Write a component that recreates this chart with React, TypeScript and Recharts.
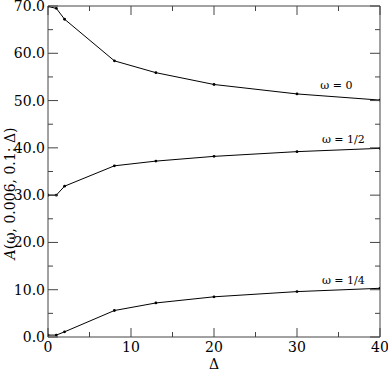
import React from 'react';
import { LineChart, Line, XAxis, YAxis, ReferenceDot } from 'recharts';

const deltas = [0, 1, 2, 8, 13, 20, 30, 40];
const omega0 = [69.9, 69.5, 67.2, 58.4, 55.9, 53.4, 51.4, 50.1];
const omegaHalf = [30.0, 30.0, 31.9, 36.2, 37.2, 38.2, 39.2, 39.9];
const omegaQuarter = [0.4, 0.4, 1.1, 5.6, 7.2, 8.5, 9.6, 10.3];

const xTicks = [0, 5, 10, 15, 20, 25, 30, 35, 40];
const yTicks = [0, 5, 10, 15, 20, 25, 30, 35, 40, 45, 50, 55, 60, 65, 70];

const curveLabels = ['ω = 0', 'ω = 1/2', 'ω = 1/4'];
const curveLabelX = [32.8, 33.0, 33.0];
const curveLabelY = [52.4, 41.0, 11.2];

const data = deltas.map((d, i) => ({
  d,
  w0: omega0[i],
  wh: omegaHalf[i],
  wq: omegaQuarter[i],
}));

const FONT = 'DejaVu Serif';
const AX = '#444';

const isMajor = (v: number) => v % 10 === 0;

const LeftTick = (props: any) => {
  const { x, y, payload } = props;
  const major = isMajor(payload.value);
  return (
    <g>
      <line x1={x} x2={x + (major ? 10 : 5)} y1={y} y2={y} stroke={AX} strokeWidth={1} />
      {major && (
        <text x={x - 3} y={y + 5} textAnchor="end" fontFamily={FONT} fontSize={14} fill="#000">
          {payload.value.toFixed(1)}
        </text>
      )}
    </g>
  );
};

const RightTick = (props: any) => {
  const { x, y, payload } = props;
  const major = isMajor(payload.value);
  return <line x1={x} x2={x - (major ? 10 : 5)} y1={y} y2={y} stroke={AX} strokeWidth={1} />;
};

const BottomTick = (props: any) => {
  const { x, y, payload } = props;
  const major = isMajor(payload.value);
  return (
    <g>
      <line x1={x} x2={x} y1={y} y2={y - (major ? 9 : 5)} stroke={AX} strokeWidth={1} />
      {major && (
        <text x={x} y={y + 15} textAnchor="middle" fontFamily={FONT} fontSize={14} fill="#000">
          {payload.value}
        </text>
      )}
    </g>
  );
};

const TopTick = (props: any) => {
  const { x, y, payload } = props;
  const major = isMajor(payload.value);
  return <line x1={x} x2={x} y1={y} y2={y + (major ? 9 : 5)} stroke={AX} strokeWidth={1} />;
};

const YLabel = (props: any) => {
  const vb = props.viewBox || { x: 0, y: 0, width: 48, height: 331 };
  const cx = vb.x + 15;
  const cy = vb.y + vb.height / 2 + 22;
  return (
    <text
      x={cx}
      y={cy}
      textAnchor="middle"
      transform={`rotate(-90, ${cx}, ${cy})`}
      fontFamily={FONT}
      fontSize={14}
      fill="#000"
    >
      <tspan fontStyle="italic">A</tspan>
      <tspan>(ω, 0.006, 0.1; Δ)</tspan>
    </text>
  );
};

const XLabel = (props: any) => {
  const vb = props.viewBox || { x: 48, y: 337, width: 332, height: 32 };
  return (
    <text x={vb.x + vb.width / 2} y={vb.y + 32} textAnchor="middle" fontFamily={FONT} fontSize={14} fill="#000">
      Δ
    </text>
  );
};

const makeCurveLabel = (text: string) => (props: any) => {
  const vb = props.viewBox || { x: 0, y: 0 };
  return (
    <text x={vb.x} y={vb.y} textAnchor="start" fontFamily={FONT} fontSize={11} fill="#000">
      {text}
    </text>
  );
};

const Dot = (props: any) => {
  const { cx, cy } = props;
  if (cx == null || cy == null) return null;
  return <circle cx={cx} cy={cy} r={1.4} fill="#000" stroke="none" />;
};

export default function App() {
  return (
    <div style={{ position: 'absolute', left: 0, top: 0, width: 388, height: 369, background: '#fff' }}>
      <LineChart width={388} height={369} data={data} margin={{ top: 0, right: 0, bottom: 0, left: 0 }}>
        <XAxis
          xAxisId="bottom"
          dataKey="d"
          type="number"
          domain={[0, 40]}
          ticks={xTicks}
          interval={0}
          orientation="bottom"
          height={32}
          tickSize={0}
          tickMargin={0}
          tickLine={false}
          axisLine={{ stroke: AX, strokeWidth: 1 }}
          tick={<BottomTick />}
          label={<XLabel />}
          allowDataOverflow
        />
        <XAxis
          xAxisId="top"
          dataKey="d"
          type="number"
          domain={[0, 40]}
          ticks={xTicks}
          interval={0}
          orientation="top"
          height={6}
          tickSize={0}
          tickMargin={0}
          tickLine={false}
          axisLine={{ stroke: AX, strokeWidth: 1 }}
          tick={<TopTick />}
          allowDataOverflow
        />
        <YAxis
          yAxisId="left"
          type="number"
          domain={[0, 70]}
          ticks={yTicks}
          interval={0}
          orientation="left"
          width={48}
          tickSize={0}
          tickMargin={0}
          tickLine={false}
          axisLine={{ stroke: AX, strokeWidth: 1 }}
          tick={<LeftTick />}
          label={<YLabel />}
          allowDataOverflow
        />
        <YAxis
          yAxisId="right"
          type="number"
          domain={[0, 70]}
          ticks={yTicks}
          interval={0}
          orientation="right"
          width={8}
          tickSize={0}
          tickMargin={0}
          tickLine={false}
          axisLine={{ stroke: AX, strokeWidth: 1 }}
          tick={<RightTick />}
          allowDataOverflow
        />
        <Line xAxisId="bottom" yAxisId="left" dataKey="w0" stroke="#000" strokeWidth={1} dot={<Dot />} activeDot={false} isAnimationActive={false} />
        <Line xAxisId="bottom" yAxisId="left" dataKey="wh" stroke="#000" strokeWidth={1} dot={<Dot />} activeDot={false} isAnimationActive={false} />
        <Line xAxisId="bottom" yAxisId="left" dataKey="wq" stroke="#000" strokeWidth={1} dot={<Dot />} activeDot={false} isAnimationActive={false} />
        {curveLabels.map((t, i) => (
          <ReferenceDot
            key={t}
            xAxisId="bottom"
            yAxisId="left"
            x={curveLabelX[i]}
            y={curveLabelY[i]}
            r={0}
            fill="none"
            stroke="none"
            label={makeCurveLabel(t)}
          />
        ))}
      </LineChart>
    </div>
  );
}
